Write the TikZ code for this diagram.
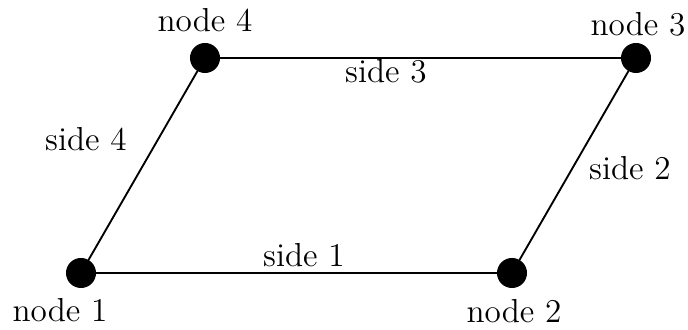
\documentclass[tikz,border=0pt]{standalone}
\begin{document}
\begin{tikzpicture}[x=0.4pt,y=-0.4pt,
  vertex/.style={circle,fill=black,draw=black,inner sep=0pt,minimum size=11.6pt},
  lbl/.style={font=\fontsize{13.3}{15}\selectfont,inner sep=0pt,anchor=base},
  edge/.style={draw=black,line width=0.75pt}]
\useasboundingbox (0,0) rectangle (688,330);
\node[vertex] (n1) at (81,273) {};
\node[vertex] (n2) at (512,273) {};
\node[vertex] (n3) at (636,58) {};
\node[vertex] (n4) at (205,58) {};
\draw[edge] (n1) -- (n2);
\draw[edge] (n2) -- (n3);
\draw[edge] (n3) -- (n4);
\draw[edge] (n4) -- (n1);
\node[lbl] (t1) at (60,322) {node 1};
\node[lbl] (t2) at (514,323) {node 2};
\node[lbl] (t3) at (638,36) {node 3};
\node[lbl] (t4) at (205,32) {node 4};
\node[lbl] (s1) at (304,267) {side 1};
\node[lbl] (s2) at (630,180) {side 2};
\node[lbl] (s3) at (386,83) {side 3};
\node[lbl] (s4) at (86,151) {side 4};
\end{tikzpicture}
\end{document}
